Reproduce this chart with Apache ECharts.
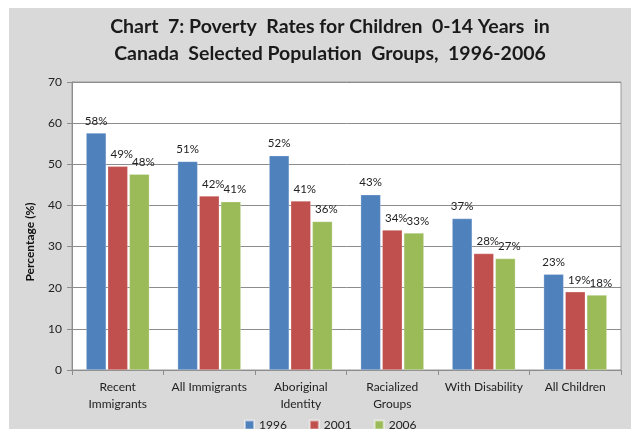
<!DOCTYPE html>
<html>
<head>
<meta charset="utf-8">
<script src="https://cdn.jsdelivr.net/npm/echarts@6/dist/echarts.min.js"></script>
<style>html,body{margin:0;padding:0;background:#fff}#c{width:631px;height:429px}</style>
</head>
<body>
<div id="c"></div>
<script>
const categories = ['Recent\nImmigrants', 'All Immigrants', 'Aboriginal\nIdentity', 'Racialized\nGroups', 'With Disability', 'All Children'];
const seriesNames = ['1996', '2001', '2006'];
const values1996 = [57.6, 50.7, 52.1, 42.6, 36.8, 23.3];
const values2001 = [49.5, 42.3, 41.1, 34.0, 28.3, 19.0];
const values2006 = [47.6, 40.9, 36.1, 33.3, 27.1, 18.2];
const labels1996 = ['58%', '51%', '52%', '43%', '37%', '23%'];
const labels2001 = ['49%', '42%', '41%', '34%', '28%', '19%'];
const labels2006 = ['48%', '41%', '36%', '33%', '27%', '18%'];
const yTicks = [0, 10, 20, 30, 40, 50, 60, 70];

const FONT = 'Lato, "Liberation Sans", sans-serif';
const colors = ['#4F81BD', '#C0504D', '#9BBB59'];
const allValues = [values1996, values2001, values2006];
const allLabels = [labels1996, labels2001, labels2006];
const offsets = [[0, 0], [4, 0], [4, 0]];

const chart = echarts.init(document.getElementById('c'), null, {renderer: 'canvas'});
chart.setOption({
  animation: false,
  backgroundColor: '#d9d9d9',
  graphic: [
    {type: 'rect', shape: {x: 0, y: 0, width: 9, height: 429}, style: {fill: '#ffffff'}, silent: true},
    {type: 'rect', shape: {x: 0, y: 0, width: 631, height: 8}, style: {fill: '#ffffff'}, silent: true}
  ],
  title: {
    text: 'Chart  7: Poverty  Rates for Children  0-14 Years  in\nCanada  Selected Population  Groups,  1996-2006',
    left: 325, top: 8, textAlign: 'center',
    textStyle: {fontFamily: FONT, fontWeight: 'bold', fontSize: 19.5, lineHeight: 27, color: '#1a1a1a'}
  },
  legend: {
    data: seriesNames, bottom: -7, left: 239,
    itemWidth: 9, itemHeight: 9, itemGap: 22, icon: 'rect',
    textStyle: {fontFamily: FONT, fontSize: 12, color: '#222'}
  },
  grid: {left: 72, right: 10, top: 82, bottom: 59, show: true, backgroundColor: '#ffffff', borderColor: '#9a9a9a', borderWidth: 1},
  xAxis: {
    type: 'category', data: categories,
    axisLine: {lineStyle: {color: '#8c8c8c'}},
    axisTick: {show: true, length: 5, lineStyle: {color: '#8c8c8c'}},
    axisLabel: {fontFamily: FONT, fontSize: 12, color: '#222', lineHeight: 17, margin: 9, interval: 0}
  },
  yAxis: {
    type: 'value', min: yTicks[0], max: yTicks[yTicks.length - 1], interval: 10,
    name: 'Percentage (%)', nameLocation: 'middle', nameGap: 36, nameRotate: 90,
    nameTextStyle: {fontFamily: FONT, fontSize: 12, fontWeight: 'bold', color: '#111', padding: [0, 32, 0, 0]},
    axisLine: {show: true, lineStyle: {color: '#8c8c8c'}},
    axisTick: {show: true, length: 5, lineStyle: {color: '#8c8c8c'}},
    axisLabel: {fontFamily: FONT, fontSize: 12, color: '#222', margin: 10},
    splitLine: {lineStyle: {color: '#8c8c8c', width: 1}}
  },
  series: seriesNames.map((n, i) => ({
    name: n, type: 'bar', barWidth: 20, barGap: '8%',
    data: allValues[i],
    itemStyle: {color: colors[i], borderColor: 'rgba(255,255,255,0.5)', borderWidth: 0.5},
    label: {
      show: true, position: 'top', distance: 6, offset: offsets[i],
      fontFamily: FONT, fontSize: 11.5, color: '#222',
      formatter: p => allLabels[i][p.dataIndex]
    }
  }))
});
</script>
</body>
</html>
